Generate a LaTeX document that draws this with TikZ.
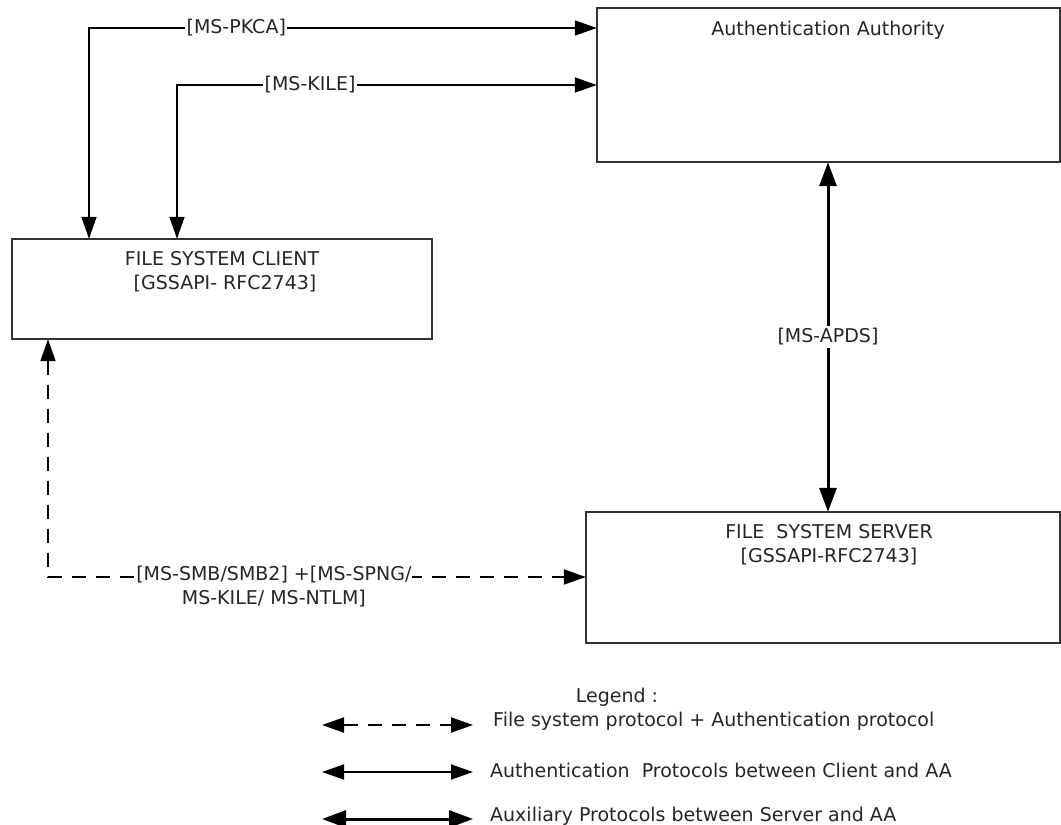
\documentclass[tikz,border=0pt]{standalone}
\usepackage{fontspec}
\setmainfont{DejaVu Sans}
\usetikzlibrary{arrows.meta}
\begin{document}
\begin{tikzpicture}[x=1pt,y=-1pt,
  every node/.style={font=\fontsize{19}{24}\selectfont, text=black!85},
  box/.style={draw=black!80, line width=1.8pt, fill=white},
  boxtext/.style={align=center, anchor=north, inner sep=0pt},
  lbl/.style={fill=white, inner sep=1.5pt},
  thinboth/.style={line width=1.5pt, {Triangle[length=22pt,width=15pt]}-{Triangle[length=22pt,width=15pt]}},
  thickboth/.style={line width=3pt, {Triangle[length=24pt,width=17pt]}-{Triangle[length=24pt,width=17pt]}},
  dashboth/.style={line width=2pt, dash pattern=on 14pt off 10pt, {Triangle[length=22pt,width=15pt]}-{Triangle[length=22pt,width=15pt]}}
]
\useasboundingbox (0,0) rectangle (1061,825);
\fill[white] (0,0) rectangle (1061,825);

% boxes
\draw[box] (597,8) rectangle (1060,162);
\node (aa) [inner sep=0pt, minimum width=463pt, minimum height=154pt] at (828.5,85) {};
\node[boxtext] (aatxt) at (828,21) {Authentication Authority};

\draw[box] (12,239) rectangle (432,339);
\node (client) [inner sep=0pt, minimum width=420pt, minimum height=100pt] at (222,289) {};
\node[boxtext] (clienttxt) at (222,251) {FILE SYSTEM CLIENT\\{}\ [GSSAPI- RFC2743]};

\draw[box] (586,512) rectangle (1060,643);
\node (server) [inner sep=0pt, minimum width=474pt, minimum height=131pt] at (823,577.5) {};
\node[boxtext] (servertxt) at (829,524) {FILE\ \ SYSTEM SERVER\\{}[GSSAPI-RFC2743]};

% connectors
\coordinate (pk) at (89,28);
\coordinate (ki) at (177,85);
\coordinate (ap) at (828,337);
\coordinate (dd) at (48,577);

\draw[thinboth] (client.north -| pk) -- (pk) -- node[lbl, pos=0.29] (pklbl) {[MS-PKCA]} (aa.west |- pk);
\draw[thinboth] (client.north -| ki) -- (ki) -- node[lbl, pos=0.317] (kilbl) {[MS-KILE]} (aa.west |- ki);
\draw[thickboth] (aa.south -| ap) -- node[lbl, inner sep=3pt] (aplbl) {[MS-APDS]} (server.north -| ap);
\draw[dashboth] (client.south -| dd) -- (dd) -- node[lbl, pos=0.42, align=center, yshift=-10pt, inner sep=1pt] (smblbl) {[MS-SMB/SMB2] +[MS-SPNG/\\MS-KILE/ MS-NTLM]} (server.west |- dd);

% legend
\node (legend) at (617,697) {Legend :};
\coordinate (l1a) at (322,725);
\coordinate (l1b) at (473,725);
\coordinate (l2a) at (322,772);
\coordinate (l2b) at (473,772);
\coordinate (l3a) at (322,819);
\coordinate (l3b) at (473,819);
\draw[dashboth] (l1a) -- (l1b);
\draw[thinboth] (l2a) -- (l2b);
\draw[thickboth] (l3a) -- (l3b);
\node[anchor=west, inner sep=0pt] (lt1) at (493,721) {File system protocol + Authentication protocol};
\node[anchor=west, inner sep=0pt] (lt2) at (490,770) {Authentication\ \ Protocols between Client and AA};
\node[anchor=west, inner sep=0pt] (lt3) at (490,816) {Auxiliary Protocols between Server and AA};
\end{tikzpicture}
\end{document}
